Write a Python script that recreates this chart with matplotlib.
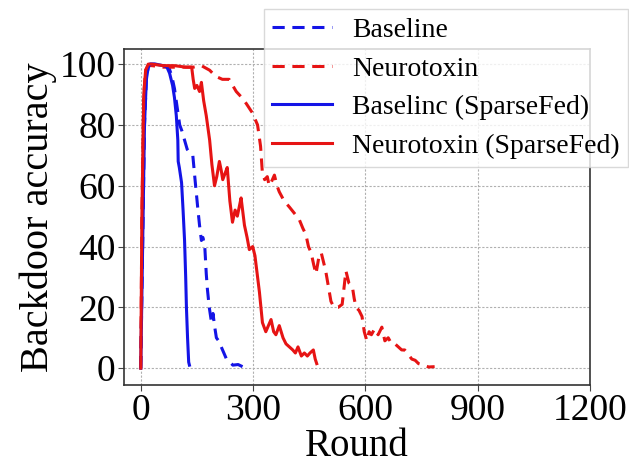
import numpy as np
import matplotlib
matplotlib.use("Agg")
from matplotlib import pyplot as plt

plt.rcParams['font.family'] = ['Liberation Serif', 'DejaVu Serif']

# Baseline (SparseFed), solid blue
base_sf_x = [0, 5, 10, 15, 20, 25, 40, 60, 70, 77, 85, 90, 95, 99, 100, 103, 109, 113, 117, 120, 122, 125, 128, 130]
base_sf_y = [0, 40, 80, 95, 99, 100, 100, 99.5, 99, 97, 93, 89, 83, 75, 68, 66, 61, 52, 42, 30, 20, 10, 2, 1]

# Baseline, dashed blue
base_x = [0, 5, 10, 15, 20, 25, 40, 60, 75, 83, 90, 97, 104, 110, 117, 124, 130, 139, 145, 152, 157, 162,
          166, 171, 175, 178, 183, 189, 193, 197, 202, 208, 215, 222, 229, 238, 246, 260, 272]
base_y = [0, 40, 80, 95, 99, 100, 100, 99.5, 99, 96, 92, 86, 80, 78, 75, 72, 71, 70, 62, 53, 47, 42,
          43, 40, 31, 26, 20, 15, 18, 14, 10, 9, 7, 5, 3, 2, 1, 1.2, 0.5]

# Neurotoxin (SparseFed), solid red
neuro_sf_x = [0, 3, 8, 13, 20, 30, 60, 90, 120, 136, 140, 144, 150, 157, 162, 168, 175, 184, 190, 197,
              203, 210, 215, 219, 225, 231, 238, 245, 252, 258, 263, 268, 272, 277, 284, 290, 299, 305,
              312, 317, 321, 325, 334, 341, 348, 355, 361, 370, 380, 388, 397, 406, 413, 420, 429, 437,
              445, 452, 461, 466, 470]
neuro_sf_y = [0, 50, 90, 98, 100, 100, 99.5, 99.5, 99, 99, 95, 92, 93, 91, 94, 88, 83, 75, 67, 60,
              63, 68, 65, 62, 64, 66, 55, 48, 52, 50, 53, 56, 52, 47, 43, 39, 40, 37,
              30, 25, 20, 15, 12, 14, 16, 12, 11, 14, 10, 8, 7, 6, 5, 7, 4, 5,
              4, 5, 6, 3, 1.5]

# Neurotoxin, dashed red
neuro_x = [0, 3, 8, 13, 20, 30, 60, 100, 140, 162, 184, 200, 218, 236, 255, 270, 282, 298, 312, 320,
           325, 331, 338, 343, 348, 357, 364, 370, 383, 397, 410, 423, 433, 441, 448, 455, 462, 468,
           475, 482, 488, 494, 501, 508, 516, 527, 538, 548, 556, 565, 570, 575, 583, 591, 597, 604,
           610, 616, 625, 634, 644, 652, 661, 670, 679, 688, 697, 705, 714, 724, 733, 742, 755, 769, 785]
neuro_y = [0, 50, 90, 98, 99.5, 99.5, 99, 99, 99, 99.5, 98, 96, 95, 95, 91, 89, 87, 84, 80, 73,
           64, 62, 63, 60, 61, 63.5, 60, 58, 55, 53, 51, 49, 46, 44, 40, 38, 34, 31,
           36, 38, 35, 32, 27, 22, 20, 20, 21, 32, 28, 27, 23, 20, 19, 17, 12, 9,
           12, 11, 13, 11, 13.5, 9, 10, 8, 8, 7, 6, 6, 4.6, 3, 2.6, 1.5, 1, 0.4, 0.5]

xticks = [0, 300, 600, 900, 1200]
yticks = [0, 20, 40, 60, 80, 100]

fig = plt.figure(figsize=(6.29, 4.66), dpi=100)
ax = fig.add_axes([0.197, 0.174, 0.741, 0.721])

lw = 2.2
ax.plot(base_x, base_y, color='#1414e6', linestyle=(0, (4, 2.5)), linewidth=lw, label='Baseline')
ax.plot(neuro_x, neuro_y, color='#e61414', linestyle=(0, (4, 2.5)), linewidth=lw, label='Neurotoxin')
ax.plot(base_sf_x, base_sf_y, color='#1414e6', linewidth=lw, label='Baselinc (SparseFed)')
ax.plot(neuro_sf_x, neuro_sf_y, color='#e61414', linewidth=lw, label='Neurotoxin (SparseFed)')

ax.set_xlim(-45, 1200)
ax.set_ylim(-5.5, 105)
ax.set_xticks(xticks)
ax.set_yticks(yticks)
ax.tick_params(labelsize=27, length=4, color='#444444', pad=2)
ax.grid(True, color='#b0b0b0', linestyle=(0, (2, 1.5)), linewidth=0.8)
for s in ax.spines.values():
    s.set_color('#333333')
    s.set_linewidth(1.2)

ax.set_xlabel('Round', fontsize=28, labelpad=0)
ax.set_ylabel('Backdoor accuracy', fontsize=29, labelpad=2)

leg = ax.legend(loc='lower left', bbox_to_anchor=(264 / 629, 1 - 167 / 466),
                bbox_transform=fig.transFigure, fontsize=20, handlelength=2.15,
                handletextpad=0.72, labelspacing=0.47, borderpad=0.3, borderaxespad=0,
                fancybox=False, framealpha=0.8, edgecolor='#d0d0d0')

fig.savefig('out.png', dpi=100)
